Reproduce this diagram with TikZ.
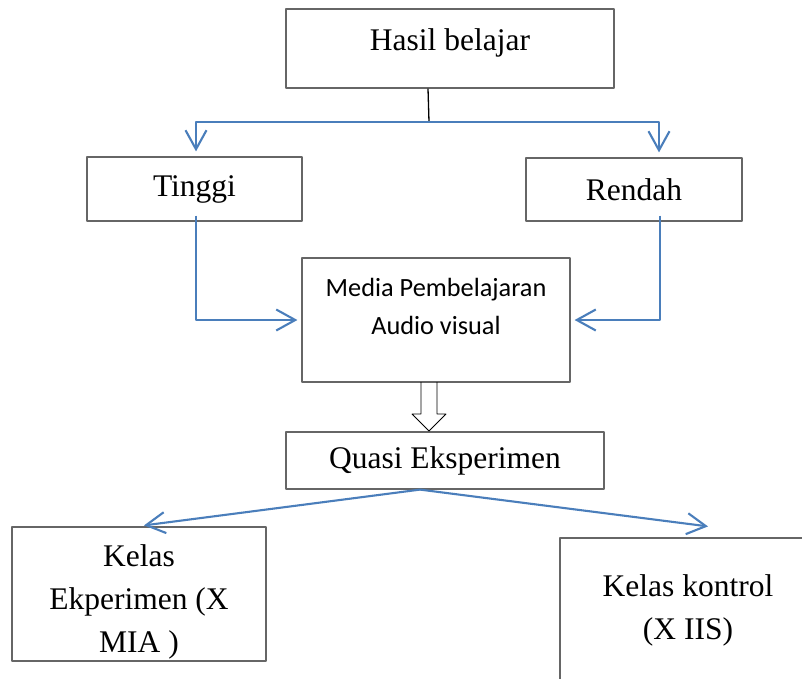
\documentclass[tikz,border=0pt]{standalone}
\usepackage{fontspec}
\setmainfont{Liberation Serif}
\newfontfamily\calibri{Carlito}
\usetikzlibrary{arrows.meta}
\definecolor{linkblue}{RGB}{74,126,187}
\tikzset{
	box/.style={draw=black!60,line width=1.2pt,inner sep=0pt},
	link/.style={draw=linkblue,line width=2.1pt,-{Straight Barb[length=19pt,width=21pt]}},
}

\begin{document}
\begin{tikzpicture}[x=1pt,y=-1pt,line join=round,font=\fontsize{31.5}{43}\selectfont]
		\useasboundingbox (0,0) rectangle (802,678);
		% boxes
		\node[box,minimum width=328,minimum height=79] (hasil) at (450,48.5) {};
		\node[anchor=base] (hasiltext) at (450,50) {Hasil belajar};
		\node[box,minimum width=215,minimum height=64] (tinggi) at (194.5,189) {Tinggi};
		\node[box,minimum width=216,minimum height=63] (rendah) at (634,189.5) {Rendah};
		\node[box,minimum width=268,minimum height=124] (media) at (436,320) {};
		\node[align=center,font=\calibri\fontsize{26.3}{38}\selectfont] (mediatext) at (436,306) {Media Pembelajaran\\Audio visual};
		\node[box,minimum width=318,minimum height=57] (quasi) at (445,460.5) {Quasi Eksperimen};
		\node[box,minimum width=254,minimum height=134] (kelasA) at (139,594) {};
		\node[align=center] (kelasAtext) at (139,602) {Kelas\\Ekperimen (X\\MIA )};
		\node[box,minimum width=270,minimum height=162] (kelasB) at (695,619) {};
		\node[align=center] (kelasBtext) at (688,610) {Kelas kontrol\\(X IIS)};
		
		% connectors
		\coordinate (split) at (429,122);
		\draw[line width=1.3pt] ([xshift=-22pt]hasil.south) -- (split);
		\draw[link,shorten >=5pt] (split) -| ([xshift=1.5pt]tinggi.north);
		\draw[link,shorten >=5pt] (split) -| ([xshift=25pt]rendah.north);
		\draw[link,shorten >=4pt] ([xshift=1.5pt,yshift=6pt]tinggi.south) |- (media.west);
		\draw[link,shorten >=4pt] ([xshift=26pt,yshift=6pt]rendah.south) |- (media.east);
		\draw[line width=0.8pt] (421,382) -- (421,414) -- (412,414) -- (429,431)
			-- (446,414) -- (437,414) -- (437,382);
		\draw[link] ([xshift=-25pt]quasi.south) -- ([xshift=5pt,yshift=1pt]kelasA.north);
		\draw[link] ([xshift=-25pt]quasi.south) -- ([xshift=13pt,yshift=11pt]kelasB.north);
\end{tikzpicture}
\end{document}
